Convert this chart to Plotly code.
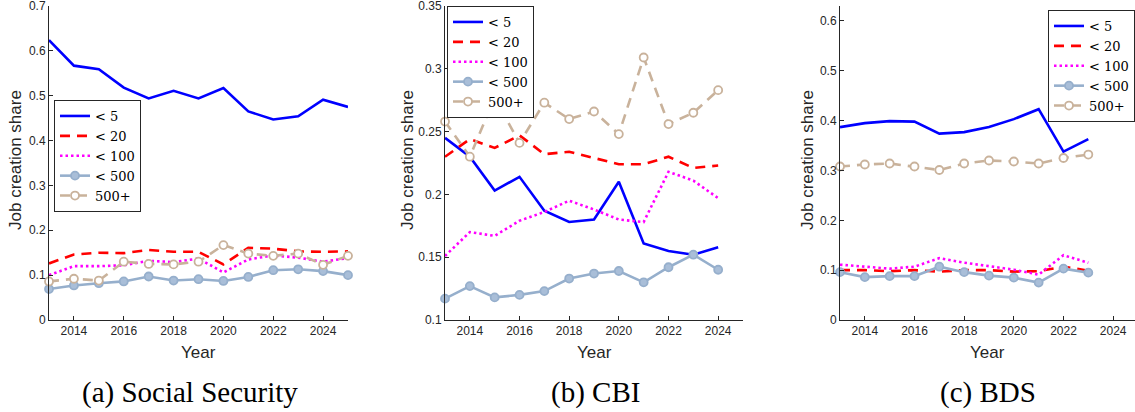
import plotly.graph_objects as go

# ---------------- data ----------------
series_names = ["< 5", "< 20", "< 100", "< 500", "500+"]

years_ss = [2013, 2014, 2015, 2016, 2017, 2018, 2019, 2020, 2021, 2022, 2023, 2024, 2025]
ss_lt5 = [0.624, 0.567, 0.559, 0.518, 0.494, 0.511, 0.494, 0.517, 0.465, 0.447, 0.454, 0.491, 0.475]
ss_lt20 = [0.126, 0.146, 0.150, 0.149, 0.156, 0.152, 0.152, 0.124, 0.161, 0.159, 0.153, 0.152, 0.153]
ss_lt100 = [0.100, 0.120, 0.120, 0.122, 0.132, 0.129, 0.137, 0.106, 0.135, 0.144, 0.139, 0.130, 0.138]
ss_lt500 = [0.069, 0.077, 0.082, 0.086, 0.097, 0.088, 0.091, 0.087, 0.096, 0.111, 0.113, 0.109, 0.100]
ss_500p = [0.086, 0.092, 0.088, 0.130, 0.125, 0.124, 0.130, 0.167, 0.148, 0.143, 0.148, 0.123, 0.143]

years_cbi = [2013, 2014, 2015, 2016, 2017, 2018, 2019, 2020, 2021, 2022, 2023, 2024]
cbi_lt5 = [0.245, 0.230, 0.203, 0.214, 0.187, 0.178, 0.180, 0.210, 0.161, 0.155, 0.152, 0.158]
cbi_lt20 = [0.230, 0.244, 0.237, 0.247, 0.232, 0.234, 0.229, 0.224, 0.224, 0.230, 0.221, 0.223]
cbi_lt100 = [0.151, 0.170, 0.167, 0.179, 0.186, 0.195, 0.188, 0.180, 0.178, 0.218, 0.211, 0.197]
cbi_lt500 = [0.117, 0.127, 0.118, 0.120, 0.123, 0.133, 0.137, 0.139, 0.130, 0.142, 0.152, 0.140]
cbi_500p = [0.258, 0.230, 0.277, 0.241, 0.273, 0.260, 0.266, 0.248, 0.309, 0.256, 0.265, 0.283]

years_bds = [2013, 2014, 2015, 2016, 2017, 2018, 2019, 2020, 2021, 2022, 2023]
bds_lt5 = [0.387, 0.395, 0.399, 0.398, 0.374, 0.377, 0.387, 0.403, 0.423, 0.338, 0.363]
bds_lt20 = [0.100, 0.100, 0.098, 0.100, 0.097, 0.100, 0.100, 0.097, 0.098, 0.107, 0.099]
bds_lt100 = [0.111, 0.107, 0.103, 0.107, 0.124, 0.115, 0.108, 0.101, 0.091, 0.130, 0.115]
bds_lt500 = [0.096, 0.086, 0.088, 0.088, 0.107, 0.096, 0.089, 0.085, 0.075, 0.103, 0.095]
bds_500p = [0.308, 0.312, 0.314, 0.308, 0.301, 0.314, 0.320, 0.318, 0.314, 0.325, 0.332]

x_tickvals = [2014, 2016, 2018, 2020, 2022, 2024]
y_ticks_ss = [0, 0.1, 0.2, 0.3, 0.4, 0.5, 0.6, 0.7]
y_ticks_cbi = [0.1, 0.15, 0.2, 0.25, 0.3, 0.35]
y_ticks_bds = [0, 0.1, 0.2, 0.3, 0.4, 0.5, 0.6]
captions = ["(a) Social Security", "(b) CBI", "(c) BDS"]

# ---------------- layout helpers ----------------
W, H = 1135, 412
def fx(p):
    return p / W
def fy(p):
    return 1 - p / H

styles = [
    dict(color="#0000ff", dash="solid", marker=None),
    dict(color="#ff0000", dash="10px,7px", marker=None),
    dict(color="#ff00ff", dash="2.5px,3px", marker=None),
    dict(color="#96afcc", dash="solid", marker=dict(symbol="circle", size=8, color="#a9bed8",
                                                     line=dict(color="#96afcc", width=1.8))),
    dict(color="#c9b29b", dash="10px,7px", marker=dict(symbol="circle", size=8, color="#ffffff",
                                                        line=dict(color="#c9b29b", width=1.8))),
]

panels = [
    dict(years=years_ss, data=[ss_lt5, ss_lt20, ss_lt100, ss_lt500, ss_500p],
         xpx=(49, 348), xrange=[2013, 2025], yrange=[0, 0.7], yticks=y_ticks_ss,
         legend=dict(x=54, y=100, anchor="left"), ytitle_x=15, caption_x=190),
    dict(years=years_cbi, data=[cbi_lt5, cbi_lt20, cbi_lt100, cbi_lt500, cbi_500p],
         xpx=(445, 743), xrange=[2013, 2025], yrange=[0.1, 0.35], yticks=y_ticks_cbi,
         legend=dict(x=447, y=6, anchor="left"), ytitle_x=407, caption_x=595),
    dict(years=years_bds, data=[bds_lt5, bds_lt20, bds_lt100, bds_lt500, bds_500p],
         xpx=(840, 1135), xrange=[2013, 2024.88], yrange=[0, 0.63], yticks=y_ticks_bds,
         legend=dict(x=1135, y=10, anchor="right"), ytitle_x=807, caption_x=988),
]

fig = go.Figure()
axis_color = "#262626"
tick_font = dict(family="Liberation Sans, Arial, sans-serif", size=12, color=axis_color)
plot_top, plot_bottom = 6, 320

annotations = []
for i, p in enumerate(panels):
    k = "" if i == 0 else str(i + 1)
    legname = "legend" + k
    for name, vals, st in zip(series_names, p["data"], styles):
        mode = "lines+markers" if st["marker"] else "lines"
        tr = dict(x=p["years"], y=vals, name=name, mode=mode,
                  line=dict(color=st["color"], width=2.6, dash=st["dash"]),
                  xaxis="x" + k, yaxis="y" + k, legend=legname, cliponaxis=False)
        if st["marker"]:
            tr["marker"] = st["marker"]
        fig.add_trace(go.Scatter(**tr))

    common = dict(showline=True, linecolor=axis_color, linewidth=1, ticks="inside", ticklen=4,
                  tickcolor=axis_color, showgrid=False, zeroline=False, tickfont=tick_font,
                  automargin=False, ticklabeloverflow="allow")
    fig.layout["xaxis" + k] = dict(domain=[fx(p["xpx"][0]), fx(p["xpx"][1])], range=p["xrange"],
                                   tickvals=x_tickvals, anchor="y" + k, **common)
    fig.layout["yaxis" + k] = dict(domain=[fy(plot_bottom), fy(plot_top)],
                                   range=[p["yrange"][0], p["yrange"][1] + 1e-6],
                                   tickvals=p["yticks"], ticktext=[f"{v:g}" for v in p["yticks"]],
                                   anchor="x" + k, **common)

    lg = p["legend"]
    fig.layout[legname] = dict(
        x=fx(lg["x"]), y=fy(lg["y"]), xanchor=lg["anchor"], yanchor="top",
        xref="paper", yref="paper",
        bgcolor="white", bordercolor=axis_color, borderwidth=1,
        font=dict(family="DejaVu Serif, serif", size=13, color="black"),
        tracegroupgap=0, itemwidth=30,
    )

    xc = (p["xpx"][0] + p["xpx"][1]) / 2
    annotations.append(dict(text="Year", x=fx(xc), y=fy(352), xref="paper", yref="paper",
                            showarrow=False, xanchor="center", yanchor="middle",
                            font=dict(family="Liberation Sans, Arial, sans-serif", size=17, color=axis_color)))
    annotations.append(dict(text="Job creation share", x=fx(p["ytitle_x"]), y=fy(160),
                            xref="paper", yref="paper", showarrow=False, textangle=-90,
                            xanchor="center", yanchor="middle",
                            font=dict(family="Liberation Sans, Arial, sans-serif", size=17, color=axis_color)))
    annotations.append(dict(text=captions[i], x=fx(p["caption_x"]), y=fy(392), xref="paper", yref="paper",
                            showarrow=False, xanchor="center", yanchor="middle",
                            font=dict(family="Liberation Serif, serif", size=29, color="black")))

fig.update_layout(width=W, height=H, margin=dict(l=0, r=0, t=0, b=0),
                  paper_bgcolor="white", plot_bgcolor="white",
                  annotations=annotations, showlegend=True)

fig.write_html("out.html", config={"displayModeBar": False},
               post_script="document.body.style.margin='0px';")
